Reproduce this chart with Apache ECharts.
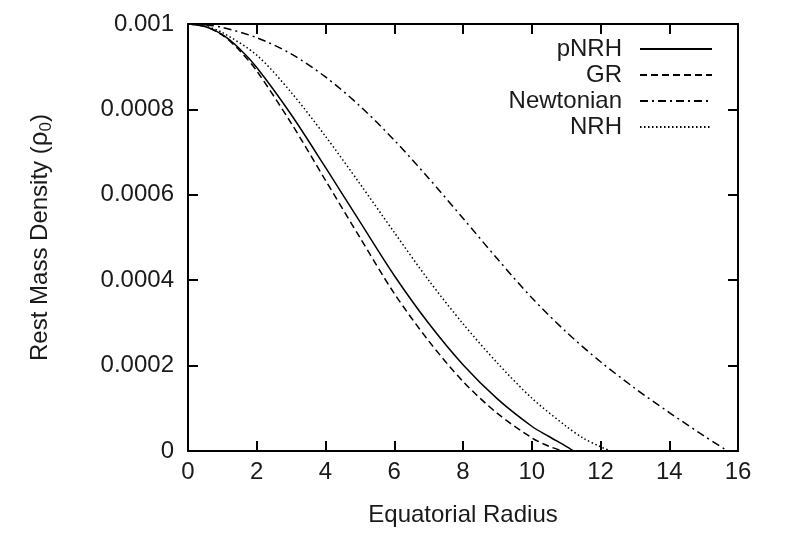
<!DOCTYPE html>
<html>
<head>
<meta charset="utf-8">
<script src="https://cdn.jsdelivr.net/npm/echarts@6/dist/echarts.min.js"></script>
<style>
    html, body { margin: 0; padding: 0; background: #fff; }
    #chart { width: 786px; height: 547px; }
</style>
</head>
<body>
<div id="chart"></div>
<script>
// values: radius (x) and rest mass density (y)
const pnrhR = [0, 0.5, 1, 1.5, 2, 3, 4, 5, 6, 7, 8, 9, 10, 10.5, 11, 11.22]
const pnrhRho = [0.001, 0.000994, 0.000975, 0.000942, 0.000898, 0.000788, 0.000664, 0.000537, 0.000411, 0.000299, 0.000202, 0.000122, 0.000058, 0.000034, 0.000011, 0]

const grR = [0, 0.5, 1, 1.5, 2, 3, 4, 5, 6, 7, 8, 9, 10, 10.5, 10.9]
const grRho = [0.001, 0.000994, 0.000974, 0.000938, 0.00089, 0.000768, 0.000634, 0.0005, 0.000369, 0.000258, 0.000163, 0.000088, 0.000031, 0.000011, 0]

const newtR = [0, 0.5, 1, 2, 3, 4, 5, 6, 7, 8, 9, 10, 11, 12, 13, 14, 15, 15.7]
const newtRho = [0.001, 0.000998, 0.000992, 0.000968, 0.00093, 0.000876, 0.000808, 0.000728, 0.000639, 0.000545, 0.00045, 0.000359, 0.000279, 0.000209, 0.000147, 0.00009, 0.000036, 0]

const nrhR = [0, 0.5, 1, 2, 3, 4, 5, 6, 7, 8, 9, 10, 11, 11.5, 12, 12.3]
const nrhRho = [0.001, 0.000995, 0.00098, 0.000927, 0.00084, 0.000737, 0.000626, 0.000512, 0.0004, 0.000298, 0.000206, 0.000124, 0.000058, 0.00003, 0.00001, 0]

const xTicks = { min: 0, max: 16, interval: 2 }
const yTicks = { min: 0, max: 0.001, interval: 0.0002 }

const font = "'Liberation Sans', Arial, sans-serif"
const ink = "#1a1a1a"
const size = 24

function pairs(xs, ys) {
    return xs.map((x, i) => [x, ys[i]])
}

function curve(name, xs, ys, dash) {
    return {
        name: name,
        type: "line",
        data: pairs(xs, ys),
        smooth: 0.3,
        showSymbol: false,
        symbol: "none",
        itemStyle: { color: "#000" },
        lineStyle: { color: "#000", width: 1.5, type: dash }
    }
}

const frame = { show: true, onZero: false, lineStyle: { color: "#000", width: 2 } }
const ticks = { show: true, inside: true, length: 10, lineStyle: { color: "#000", width: 2 } }

let myChart = echarts.init(document.getElementById("chart"))
myChart.setOption({
    animation: false,
    grid: { left: 188, right: 48, top: 24, bottom: 96 },
    legend: {
        orient: "vertical",
        right: 68,
        top: 32,
        align: "right",
        itemWidth: 72,
        itemHeight: 14,
        itemGap: 2,
        itemStyle: { opacity: 0 },
        textStyle: { fontFamily: font, fontSize: size, color: ink, lineHeight: 24, padding: [0, 13, 0, 0] },
        data: ["pNRH", "GR", "Newtonian", "NRH"]
    },
    xAxis: [{
        type: "value",
        ...xTicks,
        axisLine: frame,
        axisTick: ticks,
        splitLine: { show: false },
        axisLabel: { fontFamily: font, fontSize: size, color: ink, margin: 9 },
        name: "Equatorial Radius",
        nameLocation: "middle",
        nameGap: 52,
        nameTextStyle: { fontFamily: font, fontSize: size, color: ink }
    }, {
        type: "value",
        position: "top",
        ...xTicks,
        axisLine: frame,
        axisTick: ticks,
        splitLine: { show: false },
        axisLabel: { show: false }
    }],
    yAxis: [{
        type: "value",
        ...yTicks,
        axisLine: frame,
        axisTick: ticks,
        splitLine: { show: false },
        axisLabel: {
            fontFamily: font, fontSize: size, color: ink, margin: 14,
            formatter: v => String(parseFloat(v.toFixed(4)))
        },
        name: "{a|Rest Mass Density (}{b|ρ}{c|0}{a|)}",
        nameLocation: "middle",
        nameGap: 133,
        nameTextStyle: {
            fontFamily: font, fontSize: size, color: ink,
            rich: {
                a: { fontFamily: font, fontSize: size, color: ink, lineHeight: 30, verticalAlign: "middle" },
                b: { fontFamily: font, fontSize: size + 2, color: ink, lineHeight: 30, verticalAlign: "middle" },
                c: { fontFamily: font, fontSize: 17, color: ink, lineHeight: 30, verticalAlign: "bottom" }
            }
        }
    }, {
        type: "value",
        position: "right",
        ...yTicks,
        axisLine: frame,
        axisTick: ticks,
        splitLine: { show: false },
        axisLabel: { show: false }
    }],
    series: [
        curve("pNRH", pnrhR, pnrhRho, "solid"),
        curve("GR", grR, grRho, [7, 4]),
        curve("Newtonian", newtR, newtRho, [8, 4, 2, 4]),
        curve("NRH", nrhR, nrhRho, [1.5, 2.5])
    ]
})
</script>
</body>
</html>
